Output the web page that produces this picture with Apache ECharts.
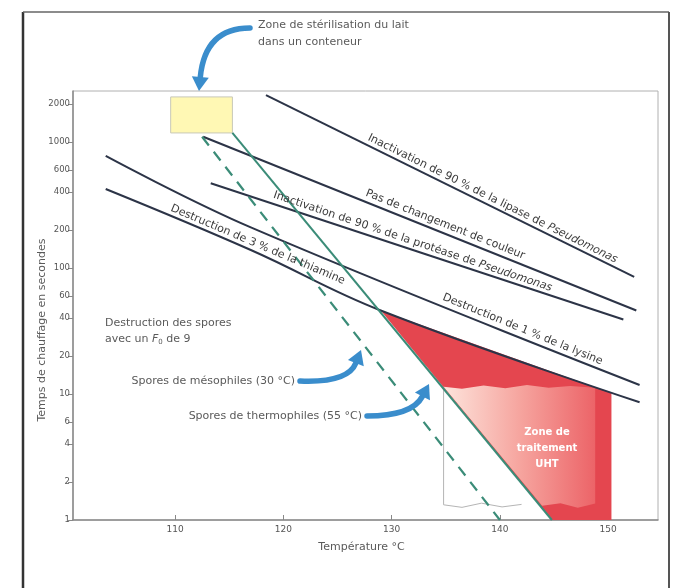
<!DOCTYPE html>
<html><head><meta charset="utf-8">
<script src="https://cdn.jsdelivr.net/npm/echarts@6/dist/echarts.min.js"></script>
<style>html,body{margin:0;padding:0;background:#fff}#c{width:679px;height:588px}</style>
</head><body><div id="c"></div>
<script>
// ---- data (temperature °C, time s) ----
const xTicks = [110, 120, 130, 140, 150];
const yTicks = [1, 2, 4, 6, 10, 20, 40, 60, 100, 200, 400, 600, 1000, 2000];

const lipaseT = [118.4, 152.4];
const lipaseS = [2360, 85];
const couleurT = [112.6, 152.6];
const couleurS = [1100, 46];
const proteaseT = [113.3, 151.4];
const proteaseS = [470, 39];
const lysineT = [103.6, 117.0, 152.9];
const lysineS = [775, 210, 11.8];
const thiamineT = [103.6, 117.0, 129.0, 152.9];
const thiamineS = [424, 139, 46, 8.6];
const mesoT = [112.5, 140.0];
const mesoS = [1100, 1];
const thermoT = [115.3, 144.8];
const thermoS = [1180, 1];

const sterT = [109.6, 115.3, 115.3, 109.6];
const sterS = [2280, 2280, 1180, 1180];

const uhtT = [129.0, 150.3, 150.3, 144.8];
const uhtS = [46, 10.2, 1, 1];
const lightT = [134.8, 136.5, 138.5, 140.5, 142.5, 144.5, 146.5, 148.8, 148.8, 147.2, 145.6, 143.9];
const lightS = [11.4, 11.0, 11.7, 11.1, 11.8, 11.2, 11.6, 11.2, 1.35, 1.25, 1.36, 1.3];
const paperT = [134.8, 134.8, 136.5, 138.3, 140.2, 142.0];
const paperS = [11.4, 1.32, 1.26, 1.36, 1.27, 1.33];

const FONT = "'DejaVu Sans',sans-serif";
const pairs = (T, S) => T.map((t, i) => [t, S[i]]);

function lineSeries(T, S, color, width, type, smooth, z) {
  return { type: 'line', data: pairs(T, S), showSymbol: false, smooth: smooth || false, silent: true,
    lineStyle: { color: color, width: width, type: type || 'solid' }, z: z || 5, animation: false };
}
function polySeries(T, S, style, z) {
  return { type: 'custom', data: pairs(T, S), silent: true, z: z, animation: false,
    renderItem: (p, api) => {
      if (p.dataIndex !== 0) return null;
      return { type: 'polygon', shape: { points: T.map((t, i) => api.coord([t, S[i]])) }, style: style };
    } };
}

const chart = echarts.init(document.getElementById('c'), null, { renderer: 'canvas' });

function arrow(x1, y1, cx, cy, x2, y2) {
  const ang = Math.atan2(y2 - cy, x2 - cx);
  const L = 14, W = 8.5;
  const bx = x2 - L * Math.cos(ang), by = y2 - L * Math.sin(ang);
  const px = -Math.sin(ang) * W, py = Math.cos(ang) * W;
  return [
    { type: 'bezierCurve', shape: { x1: x1, y1: y1, cpx1: cx, cpy1: cy, x2: bx, y2: by },
      style: { stroke: '#3a8dcc', lineWidth: 5.5, fill: null, lineCap: 'round' }, z: 20 },
    { type: 'polygon', shape: { points: [[x2, y2], [bx + px, by + py], [bx - px, by - py]] },
      style: { fill: '#3a8dcc' }, z: 20 }
  ];
}
const richLbl = { n: { fontFamily: FONT, fontSize: 11, fill: '#3c3c3c' },
                  i: { fontFamily: FONT, fontSize: 11, fill: '#3c3c3c', fontStyle: 'italic' } };
function label(text, x, y, deg) {
  return { type: 'text', x: x, y: y, rotation: -deg * Math.PI / 180, z: 15,
    style: { text: text, fontFamily: FONT, fontSize: 11, fill: '#3c3c3c',
      align: 'left', verticalAlign: 'bottom', rich: richLbl } };
}
const txt = { fontFamily: FONT, fontSize: 11, fill: '#5a5a5a' };

const graphics = [
  { type: 'line', shape: { x1: 23, y1: 12, x2: 23, y2: 588 }, style: { stroke: '#333', lineWidth: 2.5 } },
  { type: 'line', shape: { x1: 23, y1: 12, x2: 669, y2: 12 }, style: { stroke: '#666', lineWidth: 1.5 } },
  { type: 'line', shape: { x1: 669, y1: 12, x2: 669, y2: 588 }, style: { stroke: '#555', lineWidth: 2 } },
  { type: 'text', x: 42, y: 330, rotation: Math.PI / 2, style: Object.assign({ text: 'Temps de chauffage en secondes', align: 'center', verticalAlign: 'middle' }, txt) },
  { type: 'text', x: 258, y: 34, style: Object.assign({ text: 'Zone de stérilisation du lait\ndans un conteneur', lineHeight: 17, verticalAlign: 'middle' }, txt) },
  { type: 'text', x: 105, y: 331, style: { text: '{n|Destruction des spores}\n{n|avec un }{i|F}{s|0}{n| de 9}', fontFamily: FONT, verticalAlign: 'middle', lineHeight: 16,
      rich: { n: { fontFamily: FONT, fontSize: 11, fill: '#5a5a5a' }, i: { fontFamily: FONT, fontSize: 11, fill: '#5a5a5a', fontStyle: 'italic' }, s: { fontFamily: FONT, fontSize: 7, fill: '#5a5a5a', padding: [6, 0, 0, 0] } } } },
  { type: 'text', x: 295, y: 381, style: Object.assign({ text: 'Spores de mésophiles (30 °C)', align: 'right', verticalAlign: 'middle' }, txt) },
  { type: 'text', x: 362, y: 416, style: Object.assign({ text: 'Spores de thermophiles (55 °C)', align: 'right', verticalAlign: 'middle' }, txt) },
  { type: 'text', x: 547, y: 448, z: 15, style: { text: 'Zone de\ntraitement\nUHT', fontFamily: FONT, fontSize: 10, fontWeight: 'bold', fill: '#fff', align: 'center', verticalAlign: 'middle', lineHeight: 16 } },
  label('{n|Inactivation de 90 % de la lipase de }{i|Pseudomonas}', 366, 142, 26.4),
  label('{n|Pas de changement de couleur}', 364, 198, 21.8),
  label('{n|Inactivation de 90 % de la protéase de }{i|Pseudomonas}', 272, 200, 18.6),
  label('{n|Destruction de 3 % de la thiamine}', 169, 213, 23),
  label('{n|Destruction de 1 % de la lysine}', 441, 302, 22.2)
].concat(arrow(250, 28, 205, 28, 199, 91), arrow(300, 381, 348, 383, 361, 350), arrow(367, 416, 412, 416, 429, 384));

const option = {
  animation: false,
  backgroundColor: '#fff',
  grid: { left: 73, right: 21, top: 91, bottom: 68, show: true, borderColor: '#b0b0b0', borderWidth: 1 },
  xAxis: {
    type: 'value', min: 100.58, max: 154.6,
    name: 'Température °C', nameLocation: 'middle', nameGap: 22,
    nameTextStyle: { fontFamily: FONT, fontSize: 11, color: '#5a5a5a', padding: [0, 8, 0, 0] },
    axisLine: { show: true, lineStyle: { color: '#8a8a8a', width: 1.5 } },
    axisTick: { show: true, inside: true, length: 5, customValues: xTicks, lineStyle: { color: '#888' } },
    axisLabel: { customValues: xTicks, fontFamily: FONT, fontSize: 9, color: '#555', margin: 5 },
    splitLine: { show: false }
  },
  yAxis: {
    type: 'log', logBase: 10, min: 1, max: 2540,
    axisLine: { show: true, lineStyle: { color: '#8a8a8a', width: 1.5 } },
    axisTick: { show: true, length: 5, customValues: yTicks, lineStyle: { color: '#888' } },
    axisLabel: { customValues: yTicks, fontFamily: FONT, fontSize: 8.5, color: '#555', margin: 3,
      formatter: v => String(Math.round(v)) },
    splitLine: { show: false }, minorTick: { show: false }
  },
  series: [
    polySeries(sterT, sterS, { fill: '#fff8b4', stroke: '#c8c8b8', lineWidth: 1 }, 2),
    polySeries(uhtT, uhtS, { fill: '#e4464f' }, 2),
    polySeries(lightT, lightS, { fill: new echarts.graphic.LinearGradient(0, 0, 1, 0, [
      { offset: 0, color: '#fde4dc' }, { offset: 0.5, color: '#f6a59f' }, { offset: 1, color: '#ec6468' }]) }, 3),
    lineSeries(paperT, paperS, '#b5b5b5', 1, 'solid', false, 4),
    lineSeries(lipaseT, lipaseS, '#2c3447', 2),
    lineSeries(couleurT, couleurS, '#2c3447', 2),
    lineSeries(proteaseT, proteaseS, '#2c3447', 2),
    lineSeries(lysineT, lysineS, '#2c3447', 2, 'solid', 0.4),
    lineSeries(thiamineT, thiamineS, '#2c3447', 2, 'solid', 0.4),
    lineSeries(mesoT, mesoS, '#3b8c78', 2.2, [11, 8]),
    lineSeries(thermoT, thermoS, '#3b8c78', 2)
  ],
  graphic: graphics
};
chart.setOption(option);
</script></body></html>
